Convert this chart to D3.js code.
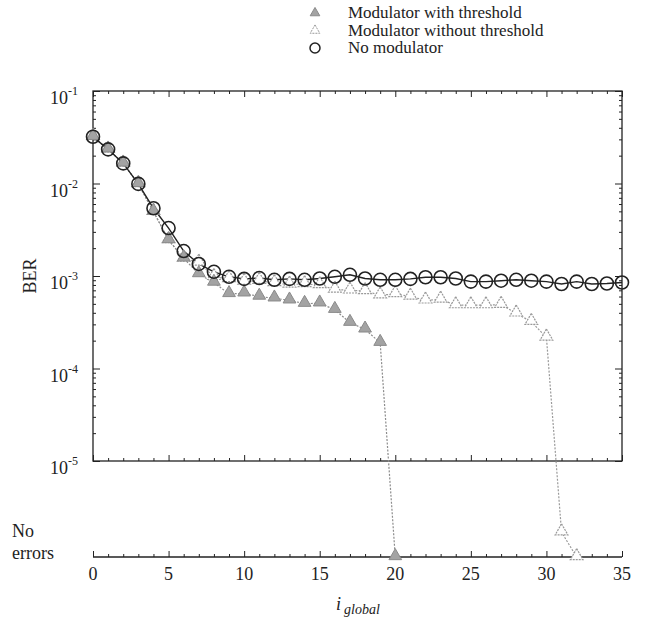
<!DOCTYPE html>
<html>
<head>
<meta charset="utf-8">
<script src="https://cdn.jsdelivr.net/npm/d3@7"></script>
<style>
  body { margin: 0; background: #fff; }
</style>
</head>
<body>
<div class="viz"></div>
<script>
// iteration index (0..35)
var iterations = d3.range(0, 36);

// BER, no modulator
var noModulator = [0.032, 0.0234, 0.0165, 0.0099, 0.0054, 0.0033, 0.00186, 0.00135, 0.00111, 0.00098,
  0.00093, 0.00095, 0.00091, 0.00093, 0.00091, 0.00094, 0.00098, 0.00103, 0.00094, 0.00091,
  0.00091, 0.00093, 0.00097, 0.00097, 0.00094, 0.00087, 0.00087, 0.00089, 0.00091, 0.00089,
  0.00087, 0.00082, 0.00087, 0.00082, 0.00083, 0.00085];

// BER, modulator with threshold (0 = no errors)
var withThreshold = [0.032, 0.0234, 0.0165, 0.0099, 0.00496, 0.00245, 0.00155, 0.00105, 0.00085, 0.00064,
  0.00065, 0.0006, 0.000574, 0.000546, 0.000502, 0.000507, 0.000432, 0.000313, 0.000265, 0.00019,
  0];

// BER, modulator without threshold (0 = no errors)
var withoutThreshold = [0.032, 0.0234, 0.0165, 0.0099, 0.00496, 0.00245, 0.00155, 0.0014, 0.00098, 0.00093,
  0.00087, 0.00089, 0.00084, 0.00081, 0.00082, 0.0008, 0.000715, 0.0007, 0.00069, 0.00062,
  0.00064, 0.0006, 0.000546, 0.000557, 0.000485, 0.000485, 0.000485, 0.00049, 0.000395, 0.00032,
  0.000217, 0.0000017, 0];

var xTicks = [0, 5, 10, 15, 20, 25, 30, 35];
var yDecades = [1e-1, 1e-2, 1e-3, 1e-4, 1e-5];
var legendLabels = ["Modulator with threshold", "Modulator without threshold", "No modulator"];

var width = 646, height = 620;
var box = { left: 93, right: 622, top: 91, bottom: 461 };
var noErrY = 557;
var serif = "Liberation Serif";
var ink = "#222";

var svg = d3.select(".viz").append("svg")
  .attr("width", width)
  .attr("height", height);

var x = d3.scaleLinear().domain([0, 35]).range([box.left, box.right]);
var y = d3.scaleLog().domain([1e-5, 1e-1]).range([box.bottom, box.top]);

function yPos(v) {
  return v === 0 ? noErrY : y(v);
}

function label(sel, size) {
  return sel.attr("font-family", serif).attr("font-size", size).attr("fill", ink);
}

// frame
svg.append("rect")
  .attr("x", box.left).attr("y", box.top)
  .attr("width", box.right - box.left).attr("height", box.bottom - box.top)
  .attr("fill", "none").attr("stroke", ink).attr("stroke-width", 1.3);

var minorY = y.ticks().filter(function (d) { return yDecades.indexOf(d) < 0; });
var minorX = d3.range(0, 36).filter(function (d) { return d % 5 !== 0; });

function tickGroup(axis, tr) {
  var g = svg.append("g").attr("transform", tr).call(axis);
  g.select(".domain").remove();
  g.selectAll("line").attr("stroke", ink).attr("stroke-width", 1);
  g.selectAll("text").remove();
  return g;
}

// left & right log ticks, pointing inwards
tickGroup(d3.axisLeft(y).tickValues(minorY).tickSize(-3), "translate(" + box.left + ",0)");
tickGroup(d3.axisLeft(y).tickValues(yDecades).tickSize(-7), "translate(" + box.left + ",0)");
tickGroup(d3.axisRight(y).tickValues(minorY).tickSize(-3), "translate(" + box.right + ",0)");
tickGroup(d3.axisRight(y).tickValues(yDecades).tickSize(-7), "translate(" + box.right + ",0)");

// top & bottom of the frame
tickGroup(d3.axisTop(x).tickValues(minorX).tickSize(-3), "translate(0," + box.top + ")");
tickGroup(d3.axisTop(x).tickValues(xTicks).tickSize(-6), "translate(0," + box.top + ")");
tickGroup(d3.axisBottom(x).tickValues(minorX).tickSize(-3), "translate(0," + box.bottom + ")");
tickGroup(d3.axisBottom(x).tickValues(xTicks).tickSize(-6), "translate(0," + box.bottom + ")");

// "no errors" axis
svg.append("line")
  .attr("x1", box.left).attr("x2", box.right)
  .attr("y1", noErrY).attr("y2", noErrY)
  .attr("stroke", ink).attr("stroke-width", 1.3);
tickGroup(d3.axisTop(x).tickValues(minorX).tickSize(3), "translate(0," + noErrY + ")");
tickGroup(d3.axisTop(x).tickValues(xTicks).tickSize(6), "translate(0," + noErrY + ")");

label(svg.append("g").selectAll("text")
  .data(xTicks)
  .enter().append("text"), 18)
  .attr("x", function (d) { return x(d); })
  .attr("y", noErrY + 23)
  .attr("text-anchor", "middle")
  .text(function (d) { return d; });

// y labels 10^n
var yl = label(svg.append("g").selectAll("text")
  .data(yDecades)
  .enter().append("text"), 18)
  .attr("x", 64)
  .attr("y", function (d) { return y(d) + 13; })
  .attr("text-anchor", "middle");
yl.append("tspan").text("10");
yl.append("tspan")
  .attr("dy", -9)
  .attr("font-size", 12)
  .text(function (d) { return "-" + Math.round(-Math.log10(d)); });

label(svg.append("text"), 18)
  .attr("transform", "translate(36,276) rotate(-90)")
  .attr("text-anchor", "middle")
  .text("BER");

label(svg.append("text"), 18).attr("x", 12).attr("y", 537).text("No");
label(svg.append("text"), 18).attr("x", 12).attr("y", 559).text("errors");

var xl = label(svg.append("text"), 18)
  .attr("x", 336).attr("y", 610)
  .attr("font-style", "italic");
xl.append("tspan").text("i");
xl.append("tspan").attr("dx", 3).attr("dy", 4).attr("font-size", 14).text("global");

// series
var line = d3.line()
  .x(function (d, i) { return x(iterations[i]); })
  .y(function (d) { return yPos(d); });

svg.append("path").datum(withoutThreshold)
  .attr("d", line).attr("fill", "none")
  .attr("stroke", "#9a9a9a").attr("stroke-width", 1.2).attr("stroke-dasharray", "2,1.5");
svg.append("path").datum(withThreshold)
  .attr("d", line).attr("fill", "none")
  .attr("stroke", "#8c8c8c").attr("stroke-width", 1.2).attr("stroke-dasharray", "2,1.5");
svg.append("path").datum(noModulator)
  .attr("d", line).attr("fill", "none")
  .attr("stroke", ink).attr("stroke-width", 1.4);

var tri = d3.symbol().type(d3.symbolTriangle).size(70);

svg.append("g").selectAll("path")
  .data(withoutThreshold)
  .enter().append("path")
  .attr("d", tri)
  .attr("transform", function (d, i) { return "translate(" + x(iterations[i]) + "," + (yPos(d) - 1) + ")"; })
  .attr("fill", "#fff").attr("stroke", "#999").attr("stroke-width", 1.2).attr("stroke-dasharray", "2,1");

svg.append("g").selectAll("path")
  .data(withThreshold)
  .enter().append("path")
  .attr("d", tri)
  .attr("transform", function (d, i) { return "translate(" + x(iterations[i]) + "," + (yPos(d) - 1) + ")"; })
  .attr("fill", "#a3a3a3").attr("stroke", "#8a8a8a").attr("stroke-width", 1);

svg.append("g").selectAll("circle")
  .data(noModulator)
  .enter().append("circle")
  .attr("cx", function (d, i) { return x(iterations[i]); })
  .attr("cy", function (d) { return yPos(d); })
  .attr("r", 6.5)
  .attr("fill", "none").attr("stroke", ink).attr("stroke-width", 1.6);

// legend
var rows = svg.append("g").selectAll("g")
  .data(legendLabels)
  .enter().append("g")
  .attr("transform", function (d, i) { return "translate(315," + (13 + i * 17.5) + ")"; });
label(rows.append("text"), 17)
  .attr("x", 33).attr("y", 5)
  .text(function (d) { return d; });
rows.filter(function (d, i) { return i === 0; }).append("path")
  .attr("d", d3.symbol().type(d3.symbolTriangle).size(40))
  .attr("fill", "#a3a3a3").attr("stroke", "#8a8a8a");
rows.filter(function (d, i) { return i === 1; }).append("path")
  .attr("d", d3.symbol().type(d3.symbolTriangle).size(40))
  .attr("fill", "#fff").attr("stroke", "#999").attr("stroke-dasharray", "2,1");
rows.filter(function (d, i) { return i === 2; }).append("circle")
  .attr("r", 5).attr("fill", "none").attr("stroke", ink).attr("stroke-width", 1.5);
</script>
</body>
</html>
